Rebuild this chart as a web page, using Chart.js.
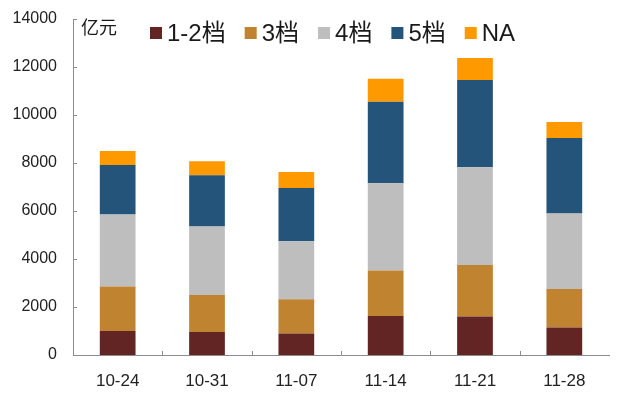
<!DOCTYPE html>
<html>
<head>
<meta charset="utf-8">
<script src="https://cdn.jsdelivr.net/npm/chart.js@4"></script>
<style>
  html, body { margin: 0; padding: 0; background: #fff; }
  #wrap { width: 620px; height: 400px; }
</style>
</head>
<body>
<div id="wrap"><canvas id="chart" width="620" height="400"></canvas></div>
<script>
const categories = ['10-24', '10-31', '11-07', '11-14', '11-21', '11-28'];
const seriesNames = ['1-2档', '3档', '4档', '5档', 'NA'];
const tier12 = [1000, 960, 900, 1630, 1600, 1150];
const tier3 = [1850, 1540, 1420, 1890, 2150, 1600];
const tier4 = [3000, 2850, 2420, 3640, 4070, 3150];
const tier5 = [2070, 2140, 2220, 3390, 3640, 3140];
const tierNA = [580, 580, 670, 960, 920, 670];
const yTicks = [0, 2000, 4000, 6000, 8000, 10000, 12000, 14000];
const unitLabel = '亿元';

const colors = ['#632523', '#C0832F', '#BEBEBE', '#24547A', '#FF9900'];
const FONT = "'Liberation Sans', Arial, 'Noto Sans CJK SC', sans-serif";
const axisColor = '#8c8c8c';

// inward tick marks + legend drawn inside the plot area
const decor = {
  id: 'decor',
  afterDraw(chart) {
    const ctx = chart.ctx;
    const x = chart.scales.x, y = chart.scales.y;
    ctx.save();
    ctx.strokeStyle = axisColor;
    ctx.lineWidth = 1;
    ctx.beginPath();
    yTicks.forEach(v => {
      const py = Math.round(y.getPixelForValue(v)) + 0.5;
      ctx.moveTo(x.left, py);
      ctx.lineTo(x.left + 4, py);
    });
    const step = x.getPixelForValue(1) - x.getPixelForValue(0);
    for (let i = 0; i < categories.length - 1; i++) {
      const px = Math.round(x.getPixelForValue(i) + step / 2) + 0.5;
      ctx.moveTo(px, y.bottom);
      ctx.lineTo(px, y.bottom - 4);
    }
    ctx.stroke();

    ctx.fillStyle = '#1a1a1a';
    ctx.textBaseline = 'middle';
    ctx.textAlign = 'left';
    ctx.font = '18px ' + FONT;
    ctx.fillText(unitLabel, 81, 29);

    ctx.font = '24px ' + FONT;
    let lx = 150;
    chart.data.datasets.forEach(ds => {
      ctx.fillStyle = ds.backgroundColor;
      ctx.fillRect(lx, 27, 12, 12);
      ctx.fillStyle = '#1a1a1a';
      ctx.fillText(ds.label, lx + 17, 34);
      lx += 17 + ctx.measureText(ds.label).width + 19;
    });
    ctx.restore();
  }
};

const dataSets = [tier12, tier3, tier4, tier5, tierNA];

new Chart(document.getElementById('chart'), {
  type: 'bar',
  data: {
    labels: categories,
    datasets: dataSets.map((d, i) => ({
      label: seriesNames[i],
      data: d,
      backgroundColor: colors[i],
      borderWidth: 0,
      barPercentage: 0.4,
      categoryPercentage: 1.0
    }))
  },
  options: {
    responsive: false,
    animation: false,
    layout: { padding: { top: 19, right: 11, left: 0, bottom: 0 } },
    plugins: {
      legend: { display: false },
      tooltip: { enabled: false }
    },
    scales: {
      x: {
        stacked: true,
        grid: { display: false, drawTicks: true, tickLength: 12 },
        border: { display: true, color: axisColor },
        ticks: { color: '#222', font: { family: FONT, size: 17 }, padding: 4 },
        afterFit: s => { s.height = 45; }
      },
      y: {
        stacked: true,
        min: 0,
        max: 14000,
        grid: { display: false, drawTicks: true, tickLength: 13 },
        border: { display: true, color: axisColor },
        ticks: {
          stepSize: 2000, color: '#222', font: { family: FONT, size: 16 }, padding: 3,
          callback: v => String(v)
        },
        afterFit: s => { s.width = 73; }
      }
    }
  },
  plugins: [decor]
});
</script>
</body>
</html>
